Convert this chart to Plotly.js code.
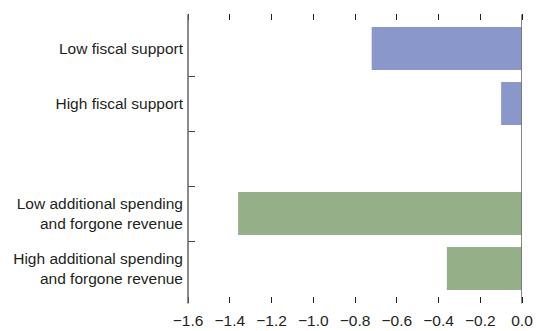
<!DOCTYPE html>
<html>
<head>
<meta charset="utf-8">
<script src="https://cdn.plot.ly/plotly-3.0.1.min.js"></script>
<style>html,body{margin:0;padding:0;background:#fff}#chart{width:537px;height:331px}</style>
</head>
<body>
<div id="chart"></div>
<script>
const categories = ["Low fiscal support", "High fiscal support", " ", "Low additional spending<br>and forgone revenue", "High additional spending<br>and forgone revenue"];
const fiscalCats = ["Low fiscal support", "High fiscal support"];
const fiscalValues = [-0.72, -0.10];
const spendCats = ["Low additional spending<br>and forgone revenue", "High additional spending<br>and forgone revenue"];
const spendValues = [-1.36, -0.36];
const xTicks = [-1.6, -1.4, -1.2, -1.0, -0.8, -0.6, -0.4, -0.2, 0.0];

const font = {family: "'Liberation Sans', Arial, sans-serif", size: 15.5, color: "#231f20"};

const traces = [
  {type: "bar", orientation: "h", y: fiscalCats, x: fiscalValues, marker: {color: "#8a97cb"}, width: 0.78, hoverinfo: "none"},
  {type: "bar", orientation: "h", y: spendCats, x: spendValues, marker: {color: "#95af88"}, width: 0.78, hoverinfo: "none"}
];

const layout = {
  width: 537, height: 331,
  margin: {l: 188, r: 15.3, t: 20.7, b: 35.3},
  showlegend: false,
  plot_bgcolor: "#fff", paper_bgcolor: "#fff",
  font: font,
  barmode: "overlay",
  xaxis: {
    range: [-1.6, 0], tickvals: xTicks, tickformat: ".1f",
    ticks: "outside", ticklen: 6, tickwidth: 1, tickcolor: "#231f20", mirror: "ticks",
    showline: false, showgrid: false, zeroline: false,
    tickfont: font, ticklabelstandoff: 4
  },
  yaxis: {
    type: "category", categoryorder: "array", categoryarray: categories,
    range: [4.5, -0.5], tickson: "boundaries",
    ticks: "inside", ticklen: 7, tickwidth: 1, tickcolor: "#444",
    showline: false, showgrid: false, zeroline: false,
    tickfont: font, ticklabelstandoff: 4
  },
  shapes: [
    {type: "line", xref: "paper", yref: "paper", x0: 0, x1: 0, y0: -0.027, y1: 1.024, line: {color: "#666", width: 1.5}},
    {type: "line", xref: "x", yref: "paper", x0: 0, x1: 0, y0: -0.027, y1: 1.024, line: {color: "#777", width: 1.8}, layer: "above"}
  ]
};

Plotly.newPlot("chart", traces, layout, {displayModeBar: false, staticPlot: true});
</script>
</body>
</html>
